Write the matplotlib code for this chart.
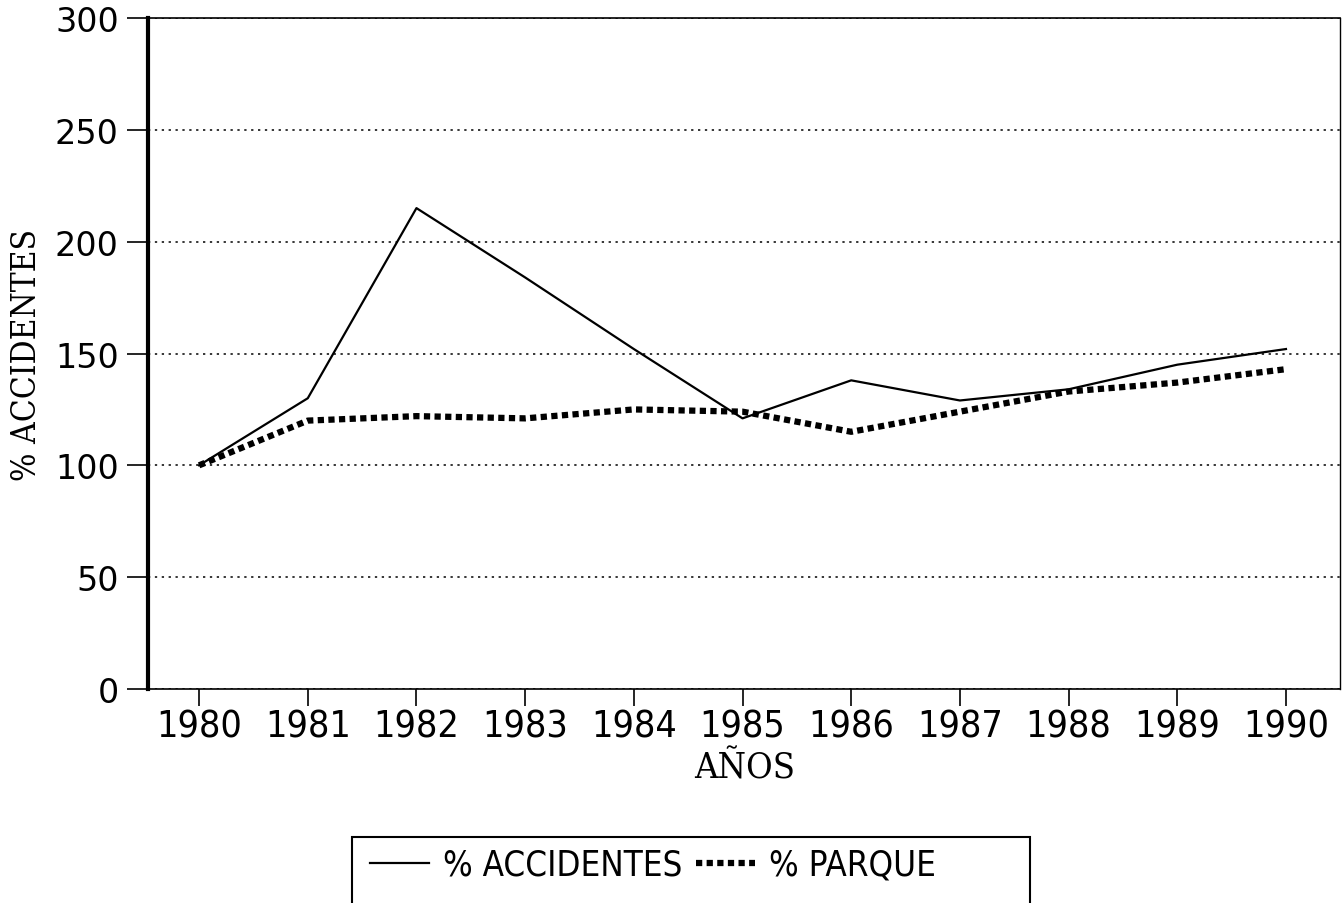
import matplotlib.pyplot as plt
from matplotlib.patches import Rectangle

years = [1980, 1981, 1982, 1983, 1984, 1985, 1986, 1987, 1988, 1989, 1990]
accidentes = [100, 130, 215, 184, 152, 121, 138, 129, 134, 145, 152]
parque = [100, 120, 122, 121, 125, 124, 115, 124, 133, 137, 143]
y_ticks = [0, 50, 100, 150, 200, 250, 300]

fig = plt.figure(figsize=(13.43, 9.04), dpi=100)
ax = fig.add_axes([0.1102, 0.2367, 0.8878, 0.7423])

l1, = ax.plot(years, accidentes, color='black', linewidth=1.6, linestyle='-',
              label='% ACCIDENTES')
l2, = ax.plot(years, parque, color='black', linewidth=4.5, linestyle=(0, (1.0, 0.7)),
              label='% PARQUE')

ax.set_xlim(1979.53, 1990.5)
ax.set_ylim(0, 300)
ax.set_yticks(y_ticks)
ax.set_xticks(years)
ax.set_xticklabels([str(y) for y in years])

# dotted horizontal grid
ax.yaxis.grid(True, linestyle=(0, (1.5, 3)), color='black', linewidth=1.1)
ax.set_axisbelow(True)

ax.tick_params(axis='y', direction='out', length=15, width=1.2, pad=6,
               labelsize=24)
ax.tick_params(axis='x', direction='out', length=12, width=1.2, pad=2,
               labelsize=27)
for lab in ax.get_xticklabels():
    lab.set_fontstretch('condensed')

ax.spines['left'].set_linewidth(3)
ax.spines['bottom'].set_linewidth(1.2)
ax.spines['top'].set_linewidth(1.2)
ax.spines['right'].set_linewidth(1.0)

ax.set_ylabel('% ACCIDENTES', family='DejaVu Serif', stretch='condensed',
              fontsize=24)
ax.yaxis.set_label_coords(-0.088, 0.5)
ax.set_xlabel('AÑOS', family='DejaVu Serif', stretch='condensed',
              fontsize=26, labelpad=4)

# legend box at the bottom, cut by the page edge
box = Rectangle((352 / 1343, -0.05), (1030 - 352) / 1343, 0.05 + 1 - 838 / 904,
                transform=fig.transFigure, fill=False, edgecolor='black',
                linewidth=1.5, clip_on=False)
fig.add_artist(box)
leg = fig.legend(handles=[l1, l2], loc='center left',
                 bbox_to_anchor=(356 / 1343, 1 - 866 / 904), ncol=2,
                 frameon=False, handlelength=1.7, handletextpad=0.4,
                 columnspacing=0.4, borderaxespad=0,
                 prop={'size': 25, 'stretch': 'condensed'})

fig.savefig('out.png', dpi=100)
